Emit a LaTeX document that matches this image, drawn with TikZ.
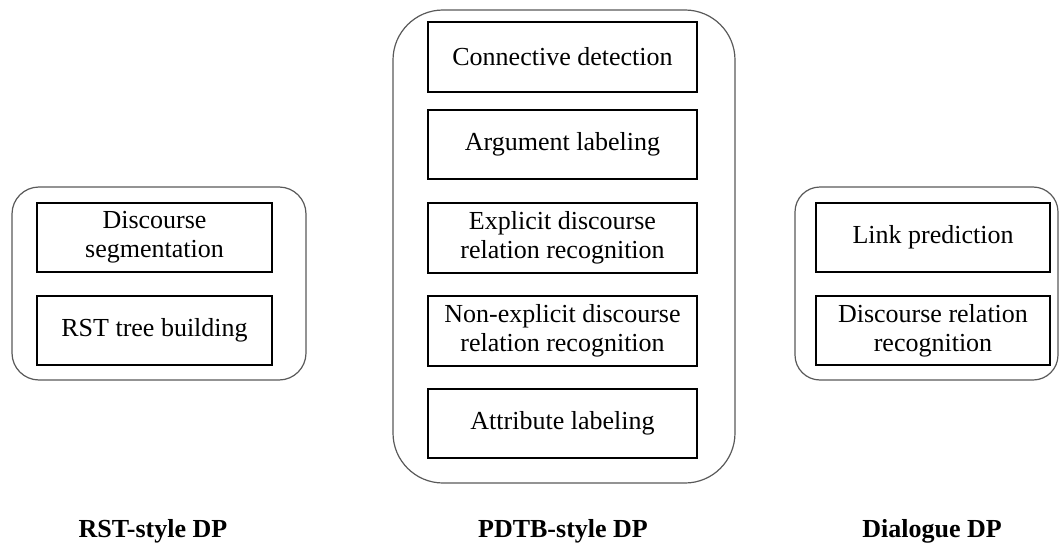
\documentclass[tikz,border=0pt]{standalone}
\usepackage{fontspec}
\setmainfont{Liberation Serif}
\begin{document}
\begin{tikzpicture}[x=1pt,y=-1pt,
  outerbox/.style={draw=black!65, line width=1.2pt, inner sep=0pt},
  task/.style={draw=black, line width=1.5pt, align=center, inner sep=0pt,
    font=\fontsize{26}{29}\selectfont},
  lbl/.style={anchor=base, font=\fontsize{26}{29}\selectfont\bfseries}]
\useasboundingbox (0,0) rectangle (1060,543);
% outer containers
\node[outerbox, rounded corners=27pt, minimum width=294pt, minimum height=193pt] (L) at (159,283.5) {};
\node[outerbox, rounded corners=50pt, minimum width=342pt, minimum height=473pt] (M) at (564,246.5) {};
\node[outerbox, rounded corners=25pt, minimum width=263pt, minimum height=193pt] (R) at (926.5,283.5) {};
% left tasks
\node[task, minimum width=235pt, minimum height=69pt] (l1) at (154.5,237.5) {Discourse\\segmentation};
\node[task, minimum width=235pt, minimum height=69pt] (l2) at (154.5,330.5) {RST tree building};
% middle tasks
\node[task, minimum width=269pt, minimum height=70pt] (m1) at (562.5,57) {Connective detection};
\node[task, minimum width=269pt, minimum height=69pt] (m2) at (562.5,144.5) {Argument labeling};
\node[task, minimum width=269pt, minimum height=70pt] (m3) at (562.5,238) {Explicit discourse\\relation recognition};
\node[task, minimum width=269pt, minimum height=70pt] (m4) at (562.5,331) {Non-explicit discourse\\relation recognition};
\node[task, minimum width=269pt, minimum height=69pt] (m5) at (562.5,423.5) {Attribute labeling};
% right tasks
\node[task, minimum width=234pt, minimum height=69pt] (r1) at (933,237.5) {Link prediction};
\node[task, minimum width=234pt, minimum height=69pt] (r2) at (933,330.5) {Discourse relation\\recognition};
% labels
\node[lbl] (lt) at (153,537) {RST-style DP};
\node[lbl] (mt) at (563,537) {PDTB-style DP};
\node[lbl] (rt) at (932,537) {Dialogue DP};
\end{tikzpicture}
\end{document}
